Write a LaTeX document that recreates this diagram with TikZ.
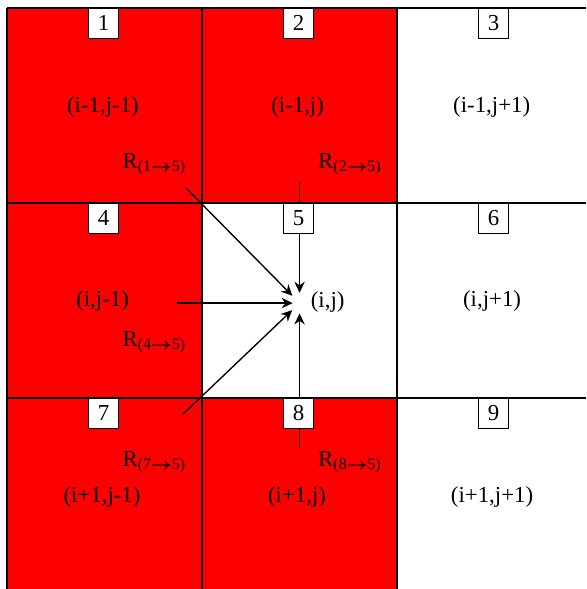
\documentclass[tikz,border=0pt]{standalone}
\usepackage{amsmath,amssymb}
\usepackage{fontspec}
\setmainfont{Liberation Serif}
\usetikzlibrary{arrows.meta}
\definecolor{cellred}{HTML}{FF0000}

\newcommand{\rflow}[1]{R\textsubscript{(#1$\boldsymbol{\rightarrow}$5)}}

\begin{document}
\begin{tikzpicture}[
    x=3cm, y=-3cm,
    >={Stealth[length=1.7mm, width=1.6mm]},
    every node/.style={font=\fontsize{10}{12}\selectfont},
    gridline/.style={line width=0.6pt},
    numbox/.style={draw, fill=white, line width=0.5pt, minimum size=13pt,
      inner sep=0pt, anchor=north},
    flow/.style={->, line width=0.6pt, shorten >=4.5pt},
  ]

  \useasboundingbox (-0.036,-0.041) rectangle (2.969,2.979);

  % Neighbour cells in red
  \fill[cellred] (0,0) rectangle (2,1);
  \fill[cellred] (0,1) rectangle (1,2);
  \fill[cellred] (0,2) rectangle (2,2.979);

  % Grid
  \foreach \x in {0,1,2}
    \draw[gridline] (\x,0) -- (\x,2.979);
  \foreach \y in {0,1,2}
    \draw[gridline] (0,\y) -- (2.969,\y);

  % Flows into the centre cell
  \coordinate (ij) at (1.5,1.513);
  \coordinate (s1) at (0.918,0.923);
  \coordinate (s2) at (1.5,0.892);
  \coordinate (s4) at (0.872,1.513);
  \coordinate (s7) at (0.903,2.082);
  \coordinate (s8) at (1.5,2.256);

  \draw[flow] (s1) -- (ij);
  \draw[flow] (s2) -- (ij);
  \draw[flow, shorten >=3pt] (s4) -- (ij);
  \draw[flow] (s7) -- (ij);
  \draw[flow] (s8) -- (ij);

  % Cell numbers
  \foreach \n/\x/\y in {1/0/0, 2/1/0, 3/2/0, 4/0/1, 5/1/1, 6/2/1, 7/0/2, 8/1/2, 9/2/2}
    \node[numbox] (n\n) at (\x+0.495,\y) {\n};

  % Cell indices
  \node (c1) at (0.492,0.508) {(i-1,j-1)};
  \node (c2) at (1.49,0.508)  {(i-1,j)};
  \node (c3) at (2.485,0.508) {(i-1,j+1)};
  \node (c4) at (0.49,1.5)    {(i,j-1)};
  \node (c5) at (1.644,1.51)  {(i,j)};
  \node (c6) at (2.487,1.5)   {(i,j+1)};
  \node (c7) at (0.487,2.508) {(i+1,j-1)};
  \node (c8) at (1.487,2.508) {(i+1,j)};
  \node (c9) at (2.487,2.508) {(i+1,j+1)};

  % Flow labels
  \node (r1) at (0.756,0.8)  {\rflow{1}};
  \node (r2) at (1.759,0.8)  {\rflow{2}};
  \node (r4) at (0.756,1.713) {\rflow{4}};
  \node (r7) at (0.756,2.33) {\rflow{7}};
  \node (r8) at (1.759,2.33) {\rflow{8}};

\end{tikzpicture}
\end{document}
